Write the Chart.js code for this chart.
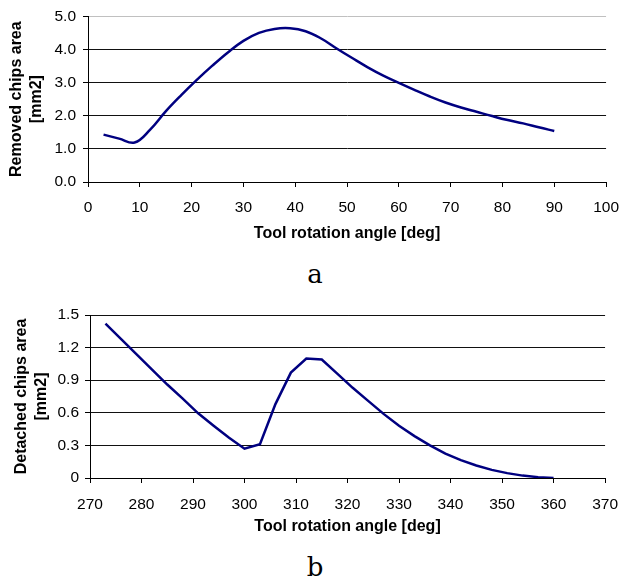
<!DOCTYPE html>
<html>
<head>
<meta charset="utf-8">
<script src="https://cdn.jsdelivr.net/npm/chart.js@4.4.1/dist/chart.umd.min.js"></script>
<style>
  body { margin: 0; background: #fff; width: 630px; height: 580px; position: relative; overflow: hidden; }
  .box { position: absolute; left: 0; width: 630px; height: 250px; }
  .lbl { position: absolute; font-family: "DejaVu Serif", serif; font-size: 26px; line-height: 26px; color: #000; transform: translate(-50%, -50%); }
</style>
</head>
<body>
<div class="box" style="top:0"><canvas id="chartA" width="630" height="250"></canvas></div>
<div class="box" style="top:290px"><canvas id="chartB" width="630" height="250"></canvas></div>
<div class="lbl" style="left:315px;top:274px">a</div>
<div class="lbl" style="left:315px;top:567px">b</div>
<script>
// chart a - removed chips area
const angleA = [3, 6, 9, 12, 15, 18, 21, 24, 27, 30, 33, 36, 39, 42, 45,
                48, 51, 54, 57, 60, 63, 66, 69, 72, 75, 78, 81, 84, 87, 90];
const areaA = [1.43, 1.31, 1.19, 1.58, 2.13, 2.62, 3.08, 3.51, 3.91, 4.26, 4.50, 4.62, 4.64, 4.55, 4.33,
               4.03, 3.74, 3.46, 3.21, 2.99, 2.78, 2.58, 2.40, 2.25, 2.12, 1.99, 1.87, 1.77, 1.65, 1.54];

// chart b - detached chips area
const angleB = [273, 276, 279, 282, 285, 288, 291, 294, 297, 300, 303, 306, 309, 312, 315,
                318, 321, 324, 327, 330, 333, 336, 339, 342, 345, 348, 351, 354, 357, 360];
const areaB = [1.42, 1.28, 1.14, 1.00, 0.86, 0.73, 0.595, 0.48, 0.37, 0.27, 0.31, 0.68, 0.97, 1.10, 1.09,
               0.96, 0.83, 0.71, 0.59, 0.48, 0.385, 0.30, 0.225, 0.165, 0.115, 0.075, 0.045, 0.022, 0.008, 0.0];

const xRangeA = [0, 100];
const yRangeA = [0, 5];
const xRangeB = [270, 370];
const yRangeB = [0, 1.5];

const FONT = "'Liberation Sans', Arial, sans-serif";

function makeChart(id, xs, ys, o) {
  return new Chart(document.getElementById(id), {
    type: 'line',
    data: {
      datasets: [{
        data: xs.map((x, i) => ({ x: x, y: ys[i] })),
        borderColor: '#000080',
        borderWidth: 2.5,
        pointRadius: 0,
        tension: o.tension,
        fill: false
      }]
    },
    options: {
      responsive: false,
      animation: false,
      layout: { padding: { top: o.padTop, right: o.padRight, left: 0, bottom: 0 } },
      plugins: { legend: { display: false }, tooltip: { enabled: false } },
      scales: {
        x: {
          type: 'linear',
          min: o.xRange[0], max: o.xRange[1],
          ticks: { stepSize: 10, color: '#000', font: { family: FONT, size: 15.5 }, padding: o.xTickPad, maxRotation: 0, autoSkip: false },
          grid: { drawOnChartArea: false, drawTicks: true, tickLength: 5, tickColor: '#000' },
          border: { display: true, color: '#000', width: 1 },
          title: {
            display: true, text: 'Tool rotation angle [deg]', color: '#000',
            font: { family: FONT, size: 16, weight: 'bold', lineHeight: 1.25 },
            padding: { top: 0, bottom: o.xTitlePad }
          },
          afterFit: s => { s.height = o.xH; }
        },
        y: {
          min: o.yRange[0], max: o.yRange[1],
          ticks: {
            stepSize: o.yStep, color: '#000', font: { family: FONT, size: 15.5 }, padding: o.yTickPad,
            callback: v => o.fmt(v)
          },
          grid: {
            color: c => (c.tick && Math.abs(c.tick.value - o.lightTop) < 1e-6) ? '#c0c0c0' : '#111',
            tickLength: 5, tickColor: '#000'
          },
          border: { display: true, color: '#000', width: 1 },
          title: {
            display: true, text: o.yTitle, color: '#000',
            font: { family: FONT, size: 16, weight: 'bold', lineHeight: 1.25 },
            padding: { top: o.yTitlePad, bottom: 0 }
          },
          afterFit: s => { s.width = o.yW; }
        }
      }
    }
  });
}

makeChart('chartA', angleA, areaA, {
  tension: 0.4, padTop: 16, padRight: 14, xRange: xRangeA, yRange: yRangeA, yStep: 1,
  xTickPad: 11, xTitlePad: 6, xH: 68, yTickPad: 7, yTitlePad: 7, yW: 88, lightTop: 5,
  yTitle: ['Removed chips area', '[mm2]'],
  fmt: v => v.toFixed(1)
});

makeChart('chartB', angleB, areaB, {
  tension: 0, padTop: 25, padRight: 23, xRange: xRangeB, yRange: yRangeB, yStep: 0.3,
  xTickPad: 12, xTitlePad: 3, xH: 62, yTickPad: 6, yTitlePad: 11.5, yW: 90, lightTop: -1,
  yTitle: ['Detached chips area', '[mm2]'],
  fmt: v => Math.abs(v) < 1e-9 ? '0' : v.toFixed(1)
});
</script>
</body>
</html>
